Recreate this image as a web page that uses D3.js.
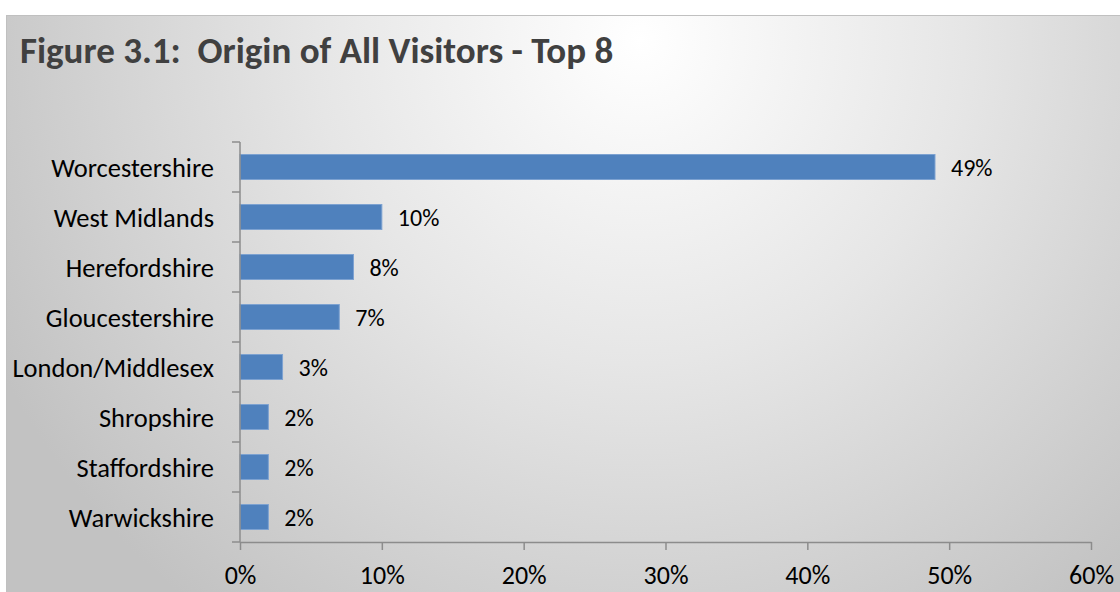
<!DOCTYPE html>
<html>
<head>
<meta charset="utf-8">
<script src="https://cdn.jsdelivr.net/npm/d3@7"></script>
<style>
  html, body { margin: 0; padding: 0; background: #ffffff; }
  svg { display: block; }
  text { font-family: Carlito, Lato, "Open Sans", sans-serif; }
</style>
</head>
<body>
<svg id="chart" width="1120" height="592"></svg>
<script>
// Origin of all visitors, top 8 counties (share of visitors)
const categories = ["Worcestershire", "West Midlands", "Herefordshire", "Gloucestershire",
                    "London/Middlesex", "Shropshire", "Staffordshire", "Warwickshire"];
const shares = [0.49, 0.10, 0.08, 0.07, 0.03, 0.02, 0.02, 0.02];
const xTicks = [0, 0.1, 0.2, 0.3, 0.4, 0.5, 0.6];
const titleText = "Figure 3.1:  Origin of All Visitors - Top 8";

const W = 1120, H = 592;
const svg = d3.select("#chart");

// Soft radial background of the chart area
const defs = svg.append("defs");
const grad = defs.append("radialGradient")
  .attr("id", "bg")
  .attr("gradientUnits", "userSpaceOnUse")
  .attr("cx", 640).attr("cy", 40).attr("r", 720)
  .attr("fx", 640).attr("fy", 40);
grad.append("stop").attr("offset", "0%").attr("stop-color", "#ffffff");
grad.append("stop").attr("offset", "45%").attr("stop-color", "#e6e6e6");
grad.append("stop").attr("offset", "100%").attr("stop-color", "#c2c2c2");

svg.append("rect")
  .attr("x", 6.5).attr("y", 15.5)
  .attr("width", W).attr("height", H)
  .attr("fill", "url(#bg)")
  .attr("stroke", "#c0c0c0").attr("stroke-width", 1);

// Title (keeps the double space after the figure number)
svg.append("text")
  .attr("x", 20).attr("y", 63)
  .attr("font-size", 37).attr("font-weight", "bold")
  .attr("fill", "#404040")
  .style("white-space", "pre")
  .attr("xml:space", "preserve")
  .text(titleText);

// Scales
const plot = { left: 240, right: 1091, top: 142, bottom: 542 };
const x = d3.scaleLinear().domain([0, 0.6]).range([plot.left, plot.right]);
const y = d3.scaleBand().domain(categories).range([plot.top, plot.bottom])
  .paddingInner(0.5).paddingOuter(0.25);

const axisColor = "#8c8c8c";

// Bars
svg.append("g").selectAll("rect")
  .data(categories)
  .join("rect")
  .attr("x", x(0))
  .attr("y", d => y(d))
  .attr("width", (d, i) => x(shares[i]) - x(0))
  .attr("height", y.bandwidth())
  .attr("fill", "#4f81bd")
  .attr("stroke", "#7da2d1")
  .attr("stroke-width", 1);

// Value labels
svg.append("g").selectAll("text")
  .data(categories)
  .join("text")
  .attr("x", (d, i) => x(shares[i]) + 16)
  .attr("y", d => y(d) + y.bandwidth() / 2)
  .attr("dy", "0.36em")
  .attr("font-size", 24)
  .attr("fill", "#000")
  .text((d, i) => d3.format(".0%")(shares[i]));

// Category axis (vertical) with ticks at band boundaries
const yAxis = svg.append("g");
yAxis.append("line")
  .attr("x1", x(0)).attr("x2", x(0))
  .attr("y1", plot.top).attr("y2", plot.bottom)
  .attr("stroke", axisColor).attr("stroke-width", 1.5);
const bounds = categories.map(c => y(c) - (y.step() - y.bandwidth()) / 2).concat([plot.bottom]);
yAxis.selectAll("line.tick")
  .data(bounds)
  .join("line")
  .attr("class", "tick")
  .attr("x1", x(0) - 8).attr("x2", x(0))
  .attr("y1", d => d).attr("y2", d => d)
  .attr("stroke", axisColor).attr("stroke-width", 1.5);
yAxis.selectAll("text")
  .data(categories)
  .join("text")
  .attr("x", x(0) - 26)
  .attr("y", d => y(d) + y.bandwidth() / 2)
  .attr("dy", "0.36em")
  .attr("text-anchor", "end")
  .attr("font-size", 26.5)
  .attr("fill", "#000")
  .text(d => d);

// Value axis (horizontal)
const xAxis = d3.axisBottom(x)
  .tickValues(xTicks)
  .tickFormat(d3.format(".0%"))
  .tickSizeInner(8).tickSizeOuter(0).tickPadding(16);
const gx = svg.append("g")
  .attr("transform", `translate(0,${plot.bottom})`)
  .call(xAxis);
gx.select(".domain").attr("stroke", axisColor).attr("stroke-width", 1.5);
gx.selectAll(".tick line").attr("stroke", axisColor).attr("stroke-width", 1.5);
gx.selectAll(".tick text")
  .attr("font-size", 26)
  .attr("font-family", "Carlito, Lato, 'Open Sans', sans-serif")
  .attr("fill", "#000");
</script>
</body>
</html>
